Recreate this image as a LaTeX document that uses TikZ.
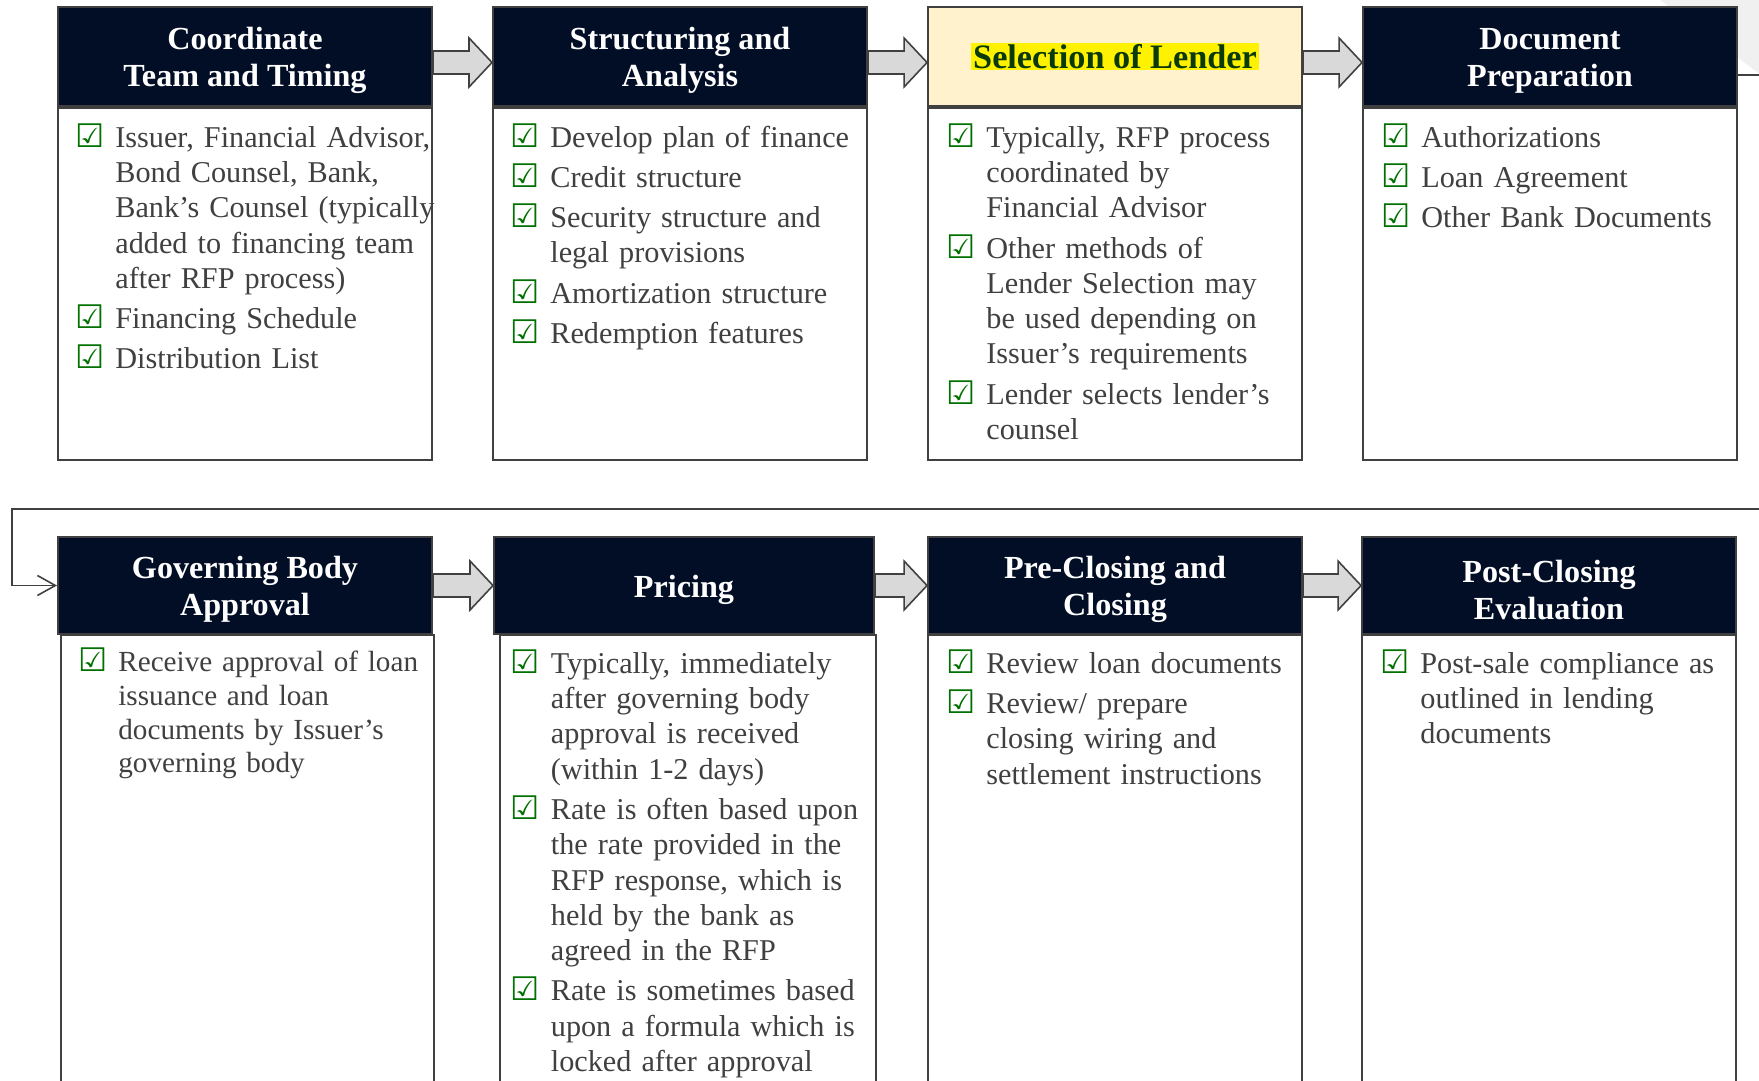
\documentclass[tikz,border=0pt]{standalone}
\usepackage{fontspec}
\setmainfont{Liberation Serif}
\newfontfamily\symfont{DejaVu Sans}
\usepackage{xcolor}
\usetikzlibrary{positioning, arrows.meta}

\definecolor{navy}{HTML}{020E26}
\definecolor{edge}{HTML}{404040}
\definecolor{ink}{HTML}{404040}
\definecolor{tickgreen}{HTML}{007000}
\definecolor{lendfill}{HTML}{FFF2CC}
\definecolor{lendtext}{HTML}{0A3A0A}
\definecolor{arrfill}{HTML}{D9D9D9}
\definecolor{haze}{HTML}{F0F0F0}

% ticked box in front of each list entry, wrapped lines hang under the text
\newcommand{\tick}{\smash{\textcolor{tickgreen}{\symfont\bfseries\fontsize{18.5pt}{18.5pt}\selectfont ☑}}}
\newcommand{\titem}[1]{\par\noindent\hangindent=0.8cm\hangafter=1%
  \makebox[0.8cm][l]{\tick}{\def\\{\hfil\break}#1}\par\vspace{2.8pt}}
% taller first line so header titles sit a little lower
\newcommand{\hstrut}{\rule{0pt}{17.4pt}}

% grey block arrow between two step headers, #3 = vertical offset in cm
\newcommand{\flowarrow}[3]{%
  \draw[blk] ([yshift=#3cm+0.23cm]#1.east)
    -- ([xshift=-0.46cm, yshift=#3cm+0.23cm]#2.west)
    -- ([xshift=-0.46cm, yshift=#3cm+0.49cm]#2.west)
    -- ([yshift=#3cm]#2.west)
    -- ([xshift=-0.46cm, yshift=#3cm-0.49cm]#2.west)
    -- ([xshift=-0.46cm, yshift=#3cm-0.23cm]#2.west)
    -- ([yshift=#3cm-0.23cm]#1.east) -- cycle;}

\begin{document}
\begin{tikzpicture}[
    hdr/.style={draw=edge, line width=1.1pt, fill=navy, text=white,
                font=\bfseries\fontsize{18.3pt}{21pt}\selectfont,
                align=center, minimum width=7.48cm, minimum height=1.98cm,
                inner sep=2pt},
    body/.style={draw=edge, line width=1.1pt, fill=white,
                 minimum width=7.48cm},
    lst/.style={text=ink, font=\fontsize{17.2pt}{20.1pt}\selectfont,
                text width=7.6cm, inner sep=0pt},
    blk/.style={draw=edge, line width=0.9pt, fill=arrfill},
    link/.style={draw=edge, line width=0.9pt},
  ]

  \useasboundingbox (0,0) rectangle (35.18,-21.62);
  \fill[white] (0,0) rectangle (35.18,-21.62);
  \fill[haze] (33.2,0) -- (35.18,0) -- (35.18,-1.47) -- cycle;

  % -- Row 1: headers
  \node[hdr] (hcoord) at (4.90, -1.13) {\hstrut Coordinate\\Team and Timing};
  \node[hdr] (hstruct) at (13.60, -1.13) {\hstrut Structuring and\\Analysis};
  \node[hdr, fill=lendfill, font=\bfseries\fontsize{19.5pt}{22pt}\selectfont]
    (hlender) at (22.30, -1.13)
    {\setlength{\fboxsep}{1pt}\colorbox{yellow}{\textcolor{lendtext}{Selection of Lender}}};
  \node[hdr] (hdocs) at (31.00, -1.13) {\hstrut Document\\Preparation};

  % -- Row 1: bodies
  \node[body, minimum height=7.04cm, below=0pt of hcoord] (bcoord) {};
  \node[body, minimum height=7.04cm, below=0pt of hstruct] (bstruct) {};
  \node[body, minimum height=7.04cm, below=0pt of hlender] (blender) {};
  \node[body, minimum height=7.04cm, below=0pt of hdocs] (bdocs) {};

  \node[lst, below right=0.09cm and 0.36cm of bcoord.north west] (lcoord) {%
    \titem{Issuer, Financial Advisor,\\Bond Counsel, Bank,\\Bank’s Counsel (typically\\added to financing team\\after RFP process)}
    \titem{Financing Schedule}
    \titem{Distribution List}};
  \node[lst, below right=0.09cm and 0.36cm of bstruct.north west] (lstruct) {%
    \titem{Develop plan of finance}
    \titem{Credit structure}
    \titem{Security structure and\\legal provisions}
    \titem{Amortization structure}
    \titem{Redemption features}};
  \node[lst, below right=0.09cm and 0.38cm of blender.north west] (llender) {%
    \titem{Typically, RFP process\\coordinated by\\Financial Advisor}
    \titem{Other methods of\\Lender Selection may\\be used depending on\\Issuer’s requirements}
    \titem{Lender selects lender’s\\counsel}};
  \node[lst, below right=0.09cm and 0.38cm of bdocs.north west] (ldocs) {%
    \titem{Authorizations}
    \titem{Loan Agreement}
    \titem{Other Bank Documents}};

  % -- Row 2: headers
  \node[hdr, minimum height=1.94cm] (hgov) at (4.90, -11.71) {\hstrut Governing Body\\Approval};
  \node[hdr, minimum height=1.94cm, minimum width=7.6cm] (hprice) at (13.68, -11.71) {\hstrut Pricing};
  \node[hdr, minimum height=1.94cm] (hclose) at (22.30, -11.71) {\hstrut Pre-Closing and\\Closing};
  \node[hdr, minimum height=1.94cm] (hpost) at (30.98, -11.71) {\hstrut Post-Closing\\Evaluation};

  % -- Row 2: bodies (run off the bottom edge)
  \node[body, minimum width=7.46cm, minimum height=9.6cm, anchor=north] (bgov) at (4.95, -12.68) {};
  \node[body, minimum width=7.52cm, minimum height=9.6cm, anchor=north] (bprice) at (13.76, -12.68) {};
  \node[body, minimum height=9.6cm, anchor=north] (bclose) at (22.30, -12.68) {};
  \node[body, minimum height=9.6cm, anchor=north] (bpost) at (30.98, -12.68) {};

  \node[lst, font=\fontsize{16.6pt}{19.2pt}\selectfont,
        below right=0.07cm and 0.36cm of bgov.north west] (lgov) {%
    \titem{Receive approval of loan\\issuance and loan\\documents by Issuer’s\\governing body}};
  \node[lst, below right=0.07cm and 0.23cm of bprice.north west] (lprice) {%
    \titem{Typically, immediately\\after governing body\\approval is received\\(within 1-2 days)}
    \titem{Rate is often based upon\\the rate provided in the\\RFP response, which is\\held by the bank as\\agreed in the RFP}
    \titem{Rate is sometimes based\\upon a formula which is\\locked after approval}};
  \node[lst, below right=0.07cm and 0.38cm of bclose.north west] (lclose) {%
    \titem{Review loan documents}
    \titem{Review/ prepare\\closing wiring and\\settlement instructions}};
  \node[lst, below right=0.07cm and 0.38cm of bpost.north west] (lpost) {%
    \titem{Post-sale compliance as\\outlined in lending\\documents}};

  % -- Block arrows between steps
  \flowarrow{hcoord}{hstruct}{-0.12}
  \flowarrow{hstruct}{hlender}{-0.12}
  \flowarrow{hlender}{hdocs}{-0.12}
  \flowarrow{hgov}{hprice}{0}
  \flowarrow{hprice}{hclose}{0}
  \flowarrow{hclose}{hpost}{0}

  % -- Wrap from row 1 to row 2
  \coordinate (wrapR) at (35.6, -1.50);
  \coordinate (wrapL) at (0.24, -10.18);
  \draw[link, -{Straight Barb[length=3.6mm, width=4mm]}]
    (hdocs.east |- wrapR) -- (wrapR) -- (wrapR |- wrapL) -- (wrapL)
    -- (wrapL |- hgov.west) -- (hgov.west);

\end{tikzpicture}
\end{document}
